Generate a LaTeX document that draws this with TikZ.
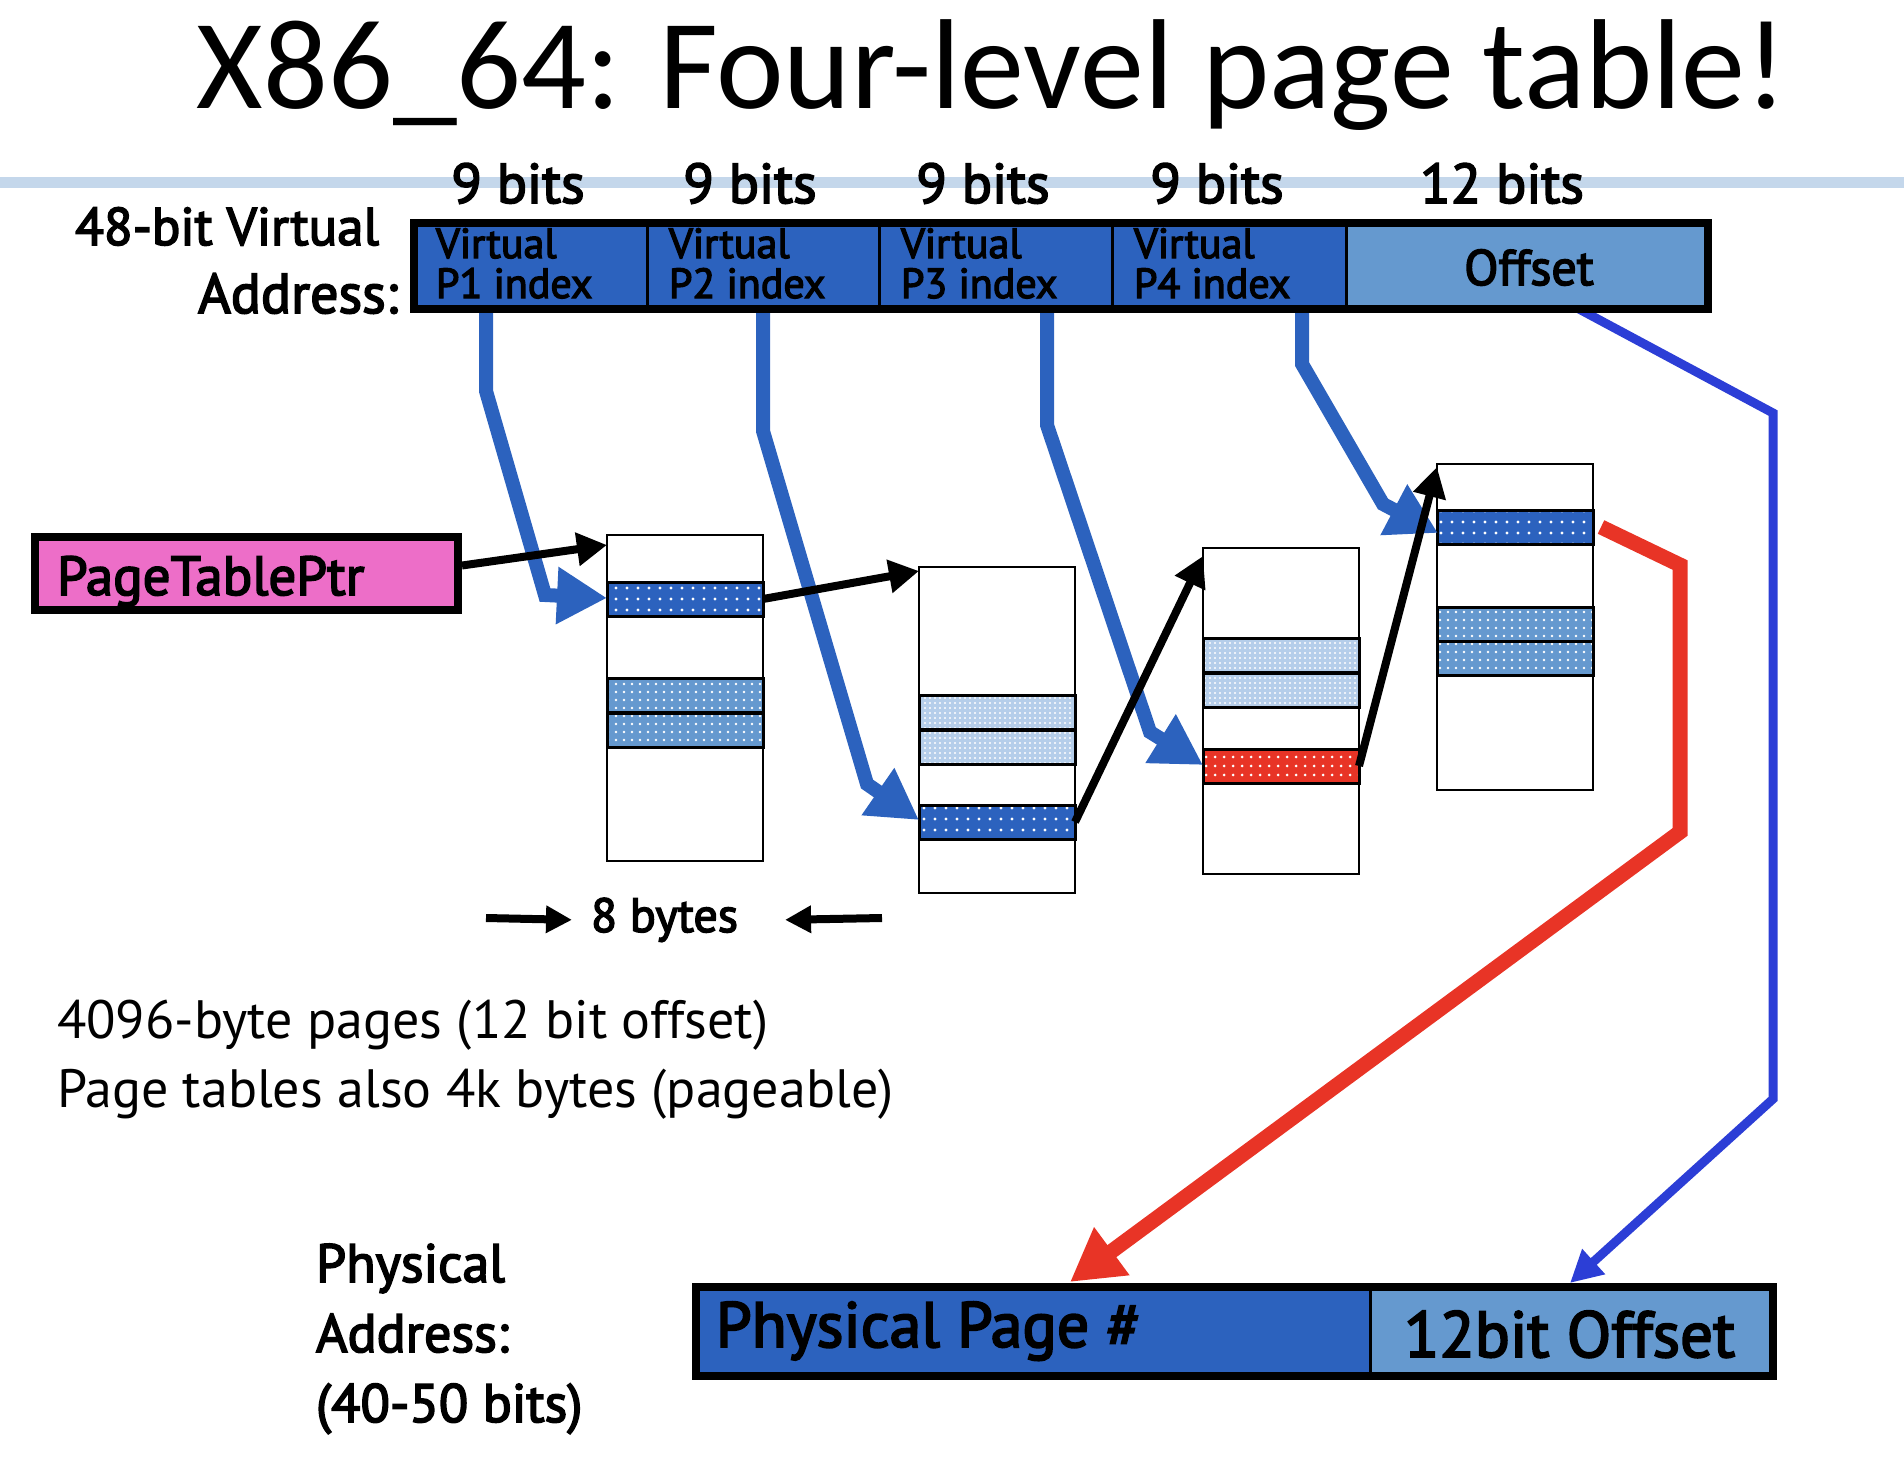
\documentclass[tikz,border=0pt]{standalone}
\usepackage{fontspec}
\setmainfont{PT Sans}
\newfontfamily\titlefont{Carlito}
\newfontfamily\semib{PT Sans}[FakeBold=3]
\usetikzlibrary{arrows.meta,patterns.meta,calc}

\definecolor{dblue}{RGB}{44,98,190}
\definecolor{mblue}{RGB}{101,153,207}
\definecolor{pblue}{RGB}{181,206,234}
\definecolor{ered}{RGB}{232,52,38}
\definecolor{ppink}{RGB}{237,110,200}
\definecolor{rulec}{RGB}{196,215,235}
\definecolor{oblue}{RGB}{44,62,214}

\newcommand\fsz[1]{\fontsize{#1pt}{#1pt}\selectfont}

\begin{document}
\begin{tikzpicture}[x=1pt,y=-1pt,
  every node/.style={inner sep=0pt, outer sep=0pt},
  vcell/.style={draw=black, line width=3pt, anchor=north west, minimum height=86pt},
  ptable/.style={draw=black, line width=2.5pt, fill=white, anchor=north west, minimum width=156pt, minimum height=326pt},
  pentry/.style={draw=black, line width=3pt, anchor=north west, minimum width=156pt, minimum height=34pt},
  darkent/.style={pentry, preaction={fill=dblue}, pattern={Dots[distance=11pt,radius=1.6pt]}, pattern color=white},
  medent/.style={pentry, preaction={fill=mblue}, pattern={Dots[distance=8pt,radius=1.3pt]}, pattern color=white},
  paleent/.style={pentry, preaction={fill=pblue}, pattern={Dots[distance=5pt,radius=1.1pt]}, pattern color=white},
  redent/.style={pentry, preaction={fill=ered}, pattern={Dots[distance=9pt,radius=1.5pt]}, pattern color=white},
  idx/.style={draw=dblue, line width=14pt, -{Triangle[length=50pt,width=54pt]}},
  blk/.style={draw=black, line width=8pt, -{Triangle[length=30pt,width=32pt]}},
  lbl/.style={font=\semib\fsz{56}, anchor=base},
  ctext/.style={font=\semib\fsz{42}, anchor=base west},
]
\useasboundingbox (0,0) rectangle (1904,1468);

% title and rule
\draw[rulec, line width=11pt] (0,182) -- (1904,182);
\node[font=\titlefont\fsz{128}, anchor=base] (title) at (992,108) {X86\_64: Four-level page table!};

% bit labels
\node[lbl] (b1) at (518,203) {9 bits};
\node[lbl] (b2) at (750,203) {9 bits};
\node[lbl] (b3) at (983,203) {9 bits};
\node[lbl] (b4) at (1217,203) {9 bits};
\node[lbl] (b5) at (1502,203) {12 bits};

\node[font=\semib\fsz{53}, anchor=base east] (va1) at (379,245) {48-bit Virtual};
\node[font=\semib\fsz{56}, anchor=base east] (va2) at (398,313) {Address:};

% page tables
\node[ptable] (t1) at (607,535) {};
\node[ptable] (t2) at (919,567) {};
\node[ptable] (t3) at (1203,548) {};
\node[ptable] (t4) at (1437,464) {};

\node[darkent] (t1a) at (607,582) {};
\node[medent] (t1b) at (607,678) {};
\node[medent] (t1c) at (607,713) {};

\node[paleent] (t2a) at (919,695) {};
\node[paleent] (t2b) at (919,730) {};
\node[darkent] (t2c) at (919,805) {};

\node[paleent] (t3a) at (1203,638) {};
\node[paleent] (t3b) at (1203,673) {};
\node[redent] (t3c) at (1203,749) {};

\node[darkent] (t4a) at (1437,510) {};
\node[medent] (t4b) at (1437,607) {};
\node[medent] (t4c) at (1437,641) {};

% virtual address cells (nodes first so arrows can refer to them)
\node[vcell, fill=dblue, minimum width=233pt] (p1) at (414,223) {};
\node[vcell, fill=dblue, minimum width=232pt] (p2) at (647,223) {};
\node[vcell, fill=dblue, minimum width=233pt] (p3) at (879,223) {};
\node[vcell, fill=dblue, minimum width=234pt] (p4) at (1112,223) {};
\node[vcell, fill=mblue, minimum width=362pt] (off) at (1346,223) {};

% physical address cells
\node[vcell, fill=dblue, minimum width=674pt, minimum height=89pt] (ppn) at (696,1287) {};
\node[vcell, fill=mblue, minimum width=403pt, minimum height=89pt] (poff) at (1370,1287) {};

% PageTablePtr
\node[draw=black, line width=8pt, fill=ppink, anchor=north west, minimum width=423pt, minimum height=73pt] (ptp) at (35,537) {};
\node[font=\semib\fsz{55}, anchor=base west] (ptpt) at (57,595) {PageTablePtr};

% index arrows
\draw[idx] ($(p1.south west)+(72,0)$) -- (486,391) -- (545,595) -- ($(t1a.west)+(0,-1)$);
\draw[idx] ($(p2.south west)+(116,0)$) -- (763,431) -- (867,784) -- ($(t2c.west)+(0,-2)$);
\draw[idx] ($(p3.south west)+(168,0)$) -- (1047,425) -- (1150,732) -- ($(t3c.west)+(0,-1)$);
\draw[idx] ($(p4.south west)+(190,0)$) -- (1302,364) -- (1383,504) -- ($(t4a.west)+(1,6)$);

% red and offset arrows
\draw[draw=ered, line width=15pt, -{Triangle[length=52pt,width=56pt]}]
  ($(t4a.east)+(8,0)$) -- (1680,565) -- (1680,832) -- ($(ppn.north west)+(374,-5)$);
\draw[draw=oblue, line width=9pt, -{Triangle[length=32pt,width=32pt]}]
  ($(off.south west)+(233,0)$) -- (1773,413) -- (1773,1099) -- ($(poff.north west)+(200,-4)$);

% black pointer arrows
\draw[blk] ($(ptp.east)+(4,-8)$) -- ($(t1.north west)+(0,10)$);
\draw[blk] (t1a.east) -- ($(t2.north west)+(0,4)$);
\draw[blk] (t2c.east) -- ($(t3.north west)+(0,8)$);
\draw[blk] (t3c.east) -- ($(t4.north west)+(0,3)$);

% redraw address bar on top of arrow starts
\node[vcell, fill=dblue, minimum width=233pt] (p1b) at (414,223) {};
\node[vcell, fill=dblue, minimum width=232pt] (p2b) at (647,223) {};
\node[vcell, fill=dblue, minimum width=233pt] (p3b) at (879,223) {};
\node[vcell, fill=dblue, minimum width=234pt] (p4b) at (1112,223) {};
\node[vcell, fill=mblue, minimum width=362pt] (offb) at (1346,223) {};
\draw[line width=8pt] (p1.north west) rectangle (off.south east);

\node[ctext] (p1v) at ($(p1.north west)+(22,35)$) {Virtual};
\node[ctext] (p1i) at ($(p1.north west)+(22,75)$) {P1 index};
\node[ctext] (p2v) at ($(p2.north west)+(22,35)$) {Virtual};
\node[ctext] (p2i) at ($(p2.north west)+(22,75)$) {P2 index};
\node[ctext] (p3v) at ($(p3.north west)+(22,35)$) {Virtual};
\node[ctext] (p3i) at ($(p3.north west)+(22,75)$) {P3 index};
\node[ctext] (p4v) at ($(p4.north west)+(22,35)$) {Virtual};
\node[ctext] (p4i) at ($(p4.north west)+(22,75)$) {P4 index};
\node[font=\semib\fsz{50}, anchor=base] (offt) at (1529,285) {Offset};

% physical bar border and text
\draw[line width=8pt] (ppn.north west) rectangle (poff.south east);
\node[font=\semib\fsz{64}, anchor=base west] (ppnt) at (716,1347) {Physical Page \#};
\node[font=\semib\fsz{65}, anchor=base west] (pofft) at (1404,1357) {12bit Offset};

% 8 bytes
\node[font=\semib\fsz{48}, anchor=base west] (eight) at (591,932) {8 bytes};
\coordinate (e1s) at (486,918);
\coordinate (e2s) at (882,918);
\draw[line width=8pt, -{Triangle[length=26pt,width=26pt]}] (e1s) -- ($(eight.west)+(-19,0)$);
\draw[line width=8pt, -{Triangle[length=26pt,width=26pt]}] (e2s) -- ($(eight.east)+(47,0)$);

% notes
\node[font=\fsz{54}, anchor=base west] (n1) at (57,1038) {4096-byte pages (12 bit offset)};
\node[font=\fsz{54}, anchor=base west] (n2) at (57,1107) {Page tables also 4k bytes (pageable)};

\node[font=\semib\fsz{54}, anchor=base west] (pa1) at (316,1282) {Physical};
\node[font=\semib\fsz{54}, anchor=base west] (pa2) at (316,1352) {Address:};
\node[font=\semib\fsz{54}, anchor=base west] (pa3) at (316,1422) {(40-50 bits)};
\end{tikzpicture}
\end{document}
